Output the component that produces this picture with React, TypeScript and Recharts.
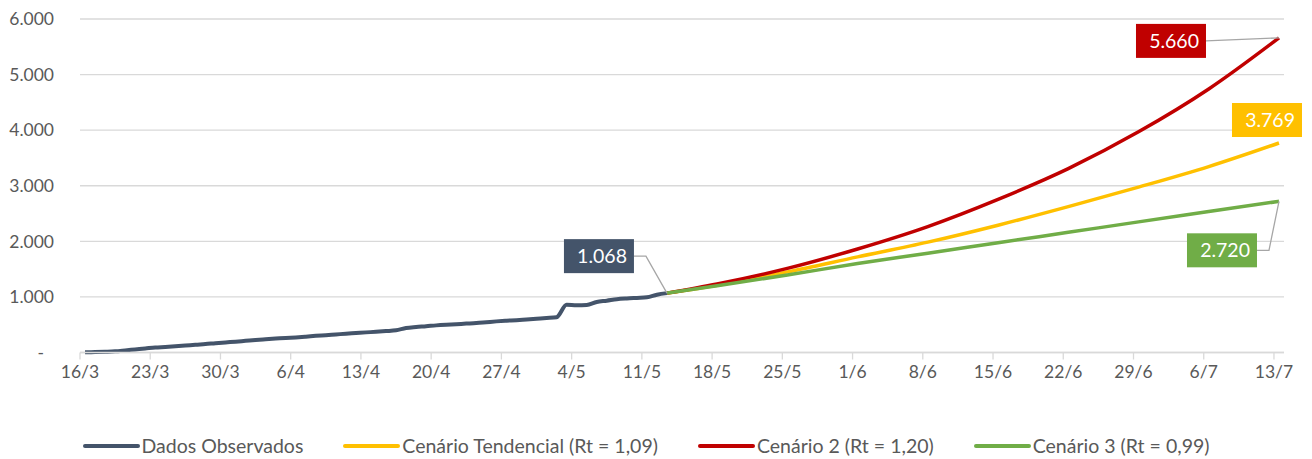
import { LineChart, Line, XAxis, YAxis, CartesianGrid, Legend } from 'recharts';

// days counted from 16/3 (day 0) to 13/7 (day 119)
const tickDays = [0, 7, 14, 21, 28, 35, 42, 49, 56, 63, 70, 77, 84, 91, 98, 105, 112, 119];
const tickLabels = [
  '16/3', '23/3', '30/3', '6/4', '13/4', '20/4', '27/4', '4/5', '11/5',
  '18/5', '25/5', '1/6', '8/6', '15/6', '22/6', '29/6', '6/7', '13/7',
];

// daily observed totals, 16/3 .. 13/5
const observedValues = [
  3, 8, 14, 22, 38, 55, 72, 90, 100, 112, 125, 140, 152, 168, 182, 195,
  210, 225, 238, 250, 262, 272, 285, 300, 312, 325, 338, 350, 362, 372, 385, 400,
  440, 458, 472, 488, 500, 510, 520, 530, 545, 560, 572, 582, 595, 608, 620, 635,
  860, 848, 855, 910, 932, 958, 972, 982, 992, 1040, 1068,
];

// projections, read at weekly points from 13/5
const projectionDays = [58, 63, 70, 77, 84, 91, 98, 105, 112, 119];
const tendencialValues = [1068, 1210, 1450, 1720, 1985, 2290, 2625, 2975, 3345, 3769];
const cenario2Values = [1068, 1233, 1513, 1863, 2266, 2755, 3308, 3970, 4741, 5660];
const cenario3Values = [1068, 1200, 1395, 1600, 1785, 1975, 2162, 2350, 2535, 2720];

const seriesNames = [
  'Dados Observados',
  'Cenário Tendencial (Rt = 1,09)',
  'Cenário 2 (Rt = 1,20)',
  'Cenário 3 (Rt = 0,99)',
];
const seriesColors = ['#44546A', '#FFC000', '#C00000', '#70AD47'];

const yTicks = [0, 1000, 2000, 3000, 4000, 5000, 6000];

const observedData = observedValues.map((v, i) => ({ x: i + 0.5, v }));
const toProjection = (vals: number[]) => projectionDays.map((d, i) => ({ x: d + 0.5, v: vals[i] }));

const fmt = (v: number) => String(Math.round(v)).replace(/\B(?=(\d{3})+(?!\d))/g, '.');

const FONT = 'Lato, "Open Sans", sans-serif';

type Badge = {
  fill: string;
  box: [number, number];
  leader?: [number, number][];
};

function makeBadge(lastIndex: number, b: Badge) {
  return (props: any) => {
    const { x, y, index, value } = props;
    if (index !== lastIndex || x == null || y == null) return null;
    const bx = x + b.box[0];
    const by = y + b.box[1];
    return (
      <g key={`badge-${index}`}>
        {b.leader && (
          <polyline
            points={b.leader.map(([lx, ly]) => `${x + lx},${y + ly}`).join(' ')}
            fill="none"
            stroke="#A6A6A6"
            strokeWidth={1.3}
          />
        )}
        <rect x={bx} y={by} width={70} height={34} fill={b.fill} />
        <text
          x={bx + 63}
          y={by + 17}
          dy="0.36em"
          textAnchor="end"
          fill="#fff"
          fontSize={19.5}
          fontFamily={FONT}
        >
          {fmt(value)}
        </text>
      </g>
    );
  };
}

function YTick({ x, y, payload }: any) {
  const zero = payload.value === 0;
  return (
    <text x={zero ? x - 10 : x} y={y} dy="0.36em" textAnchor="end" fill="#595959" fontSize={17.5} fontFamily={FONT}>
      {zero ? '-' : fmt(payload.value)}
    </text>
  );
}

function LegendContent() {
  return (
    <div style={{ display: 'flex', justifyContent: 'center', gap: 40, height: 20, alignItems: 'center', fontFamily: FONT }}>
      {seriesNames.map((name, i) => (
        <div key={name} style={{ display: 'flex', alignItems: 'center' }}>
          <span style={{ display: 'inline-block', width: 57, height: 4, borderRadius: 2, background: seriesColors[i], marginRight: 2 }} />
          <span style={{ fontSize: 19.5, color: '#595959', lineHeight: '20px' }}>{name}</span>
        </div>
      ))}
    </div>
  );
}

export default function App() {
  return (
    <LineChart width={1296} height={448} margin={{ top: 11, right: 20, left: 0, bottom: 0 }}>
      <CartesianGrid vertical={false} stroke="#D9D9D9" strokeWidth={1.3} />
      <XAxis
        type="number"
        dataKey="x"
        domain={[0, 120]}
        ticks={tickDays}
        tickFormatter={(v: number) => tickLabels[tickDays.indexOf(v)] ?? ''}
        allowDuplicatedCategory={false}
        stroke="#D9D9D9"
        strokeWidth={1.3}
        tickSize={7}
        tickMargin={6}
        height={83.5}
        tick={{ fill: '#595959', fontSize: 17.5, fontFamily: FONT }}
      />
      <YAxis
        type="number"
        domain={[0, 6000]}
        ticks={yTicks}
        width={72}
        axisLine={false}
        tickLine={false}
        tickSize={0}
        tickMargin={26}
        tick={<YTick />}
      />
      <Legend verticalAlign="bottom" content={<LegendContent />} wrapperStyle={{ height: 20 }} />
      <Line
        data={observedData}
        dataKey="v"
        name={seriesNames[0]}
        type="monotone"
        stroke={seriesColors[0]}
        strokeWidth={4}
        dot={false}
        isAnimationActive={false}
        label={makeBadge(observedValues.length - 1, {
          fill: seriesColors[0],
          box: [-103, -54],
          leader: [[-33, -37], [-21, -37], [0, 0]],
        })}
      />
      <Line
        data={toProjection(tendencialValues)}
        dataKey="v"
        name={seriesNames[1]}
        type="monotone"
        stroke={seriesColors[1]}
        strokeWidth={3.5}
        dot={false}
        isAnimationActive={false}
        label={makeBadge(projectionDays.length - 1, { fill: seriesColors[1], box: [-47, -40] })}
      />
      <Line
        data={toProjection(cenario2Values)}
        dataKey="v"
        name={seriesNames[2]}
        type="monotone"
        stroke={seriesColors[2]}
        strokeWidth={3.5}
        dot={false}
        isAnimationActive={false}
        label={makeBadge(projectionDays.length - 1, {
          fill: seriesColors[2],
          box: [-143, -14],
          leader: [[-73, 3], [0, 0]],
        })}
      />
      <Line
        data={toProjection(cenario3Values)}
        dataKey="v"
        name={seriesNames[3]}
        type="monotone"
        stroke={seriesColors[3]}
        strokeWidth={3.5}
        dot={false}
        isAnimationActive={false}
        label={makeBadge(projectionDays.length - 1, {
          fill: seriesColors[3],
          box: [-92, 32],
          leader: [[-22, 49], [-10, 49], [0, 0]],
        })}
      />
    </LineChart>
  );
}
